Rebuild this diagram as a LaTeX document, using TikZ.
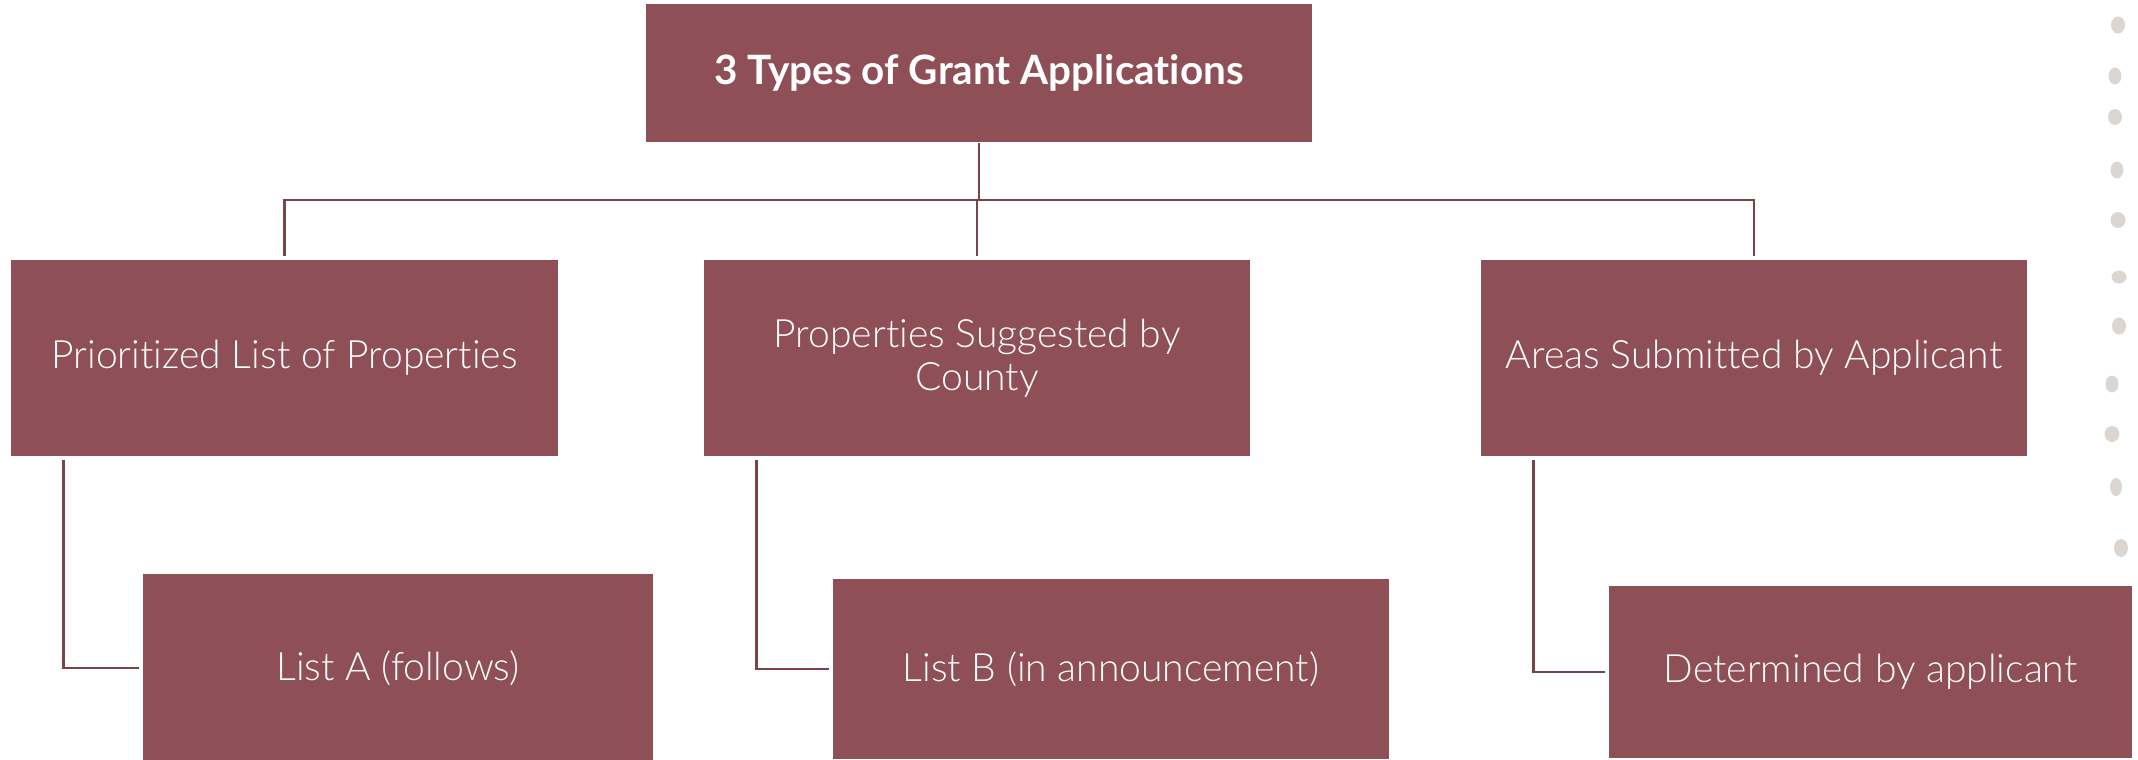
\documentclass[tikz,border=0pt]{standalone}
\usepackage{fontspec}
\setmainfont{Lato Light}[Ligatures=NoCommon, BoldFont=Lato Bold]
\usetikzlibrary{positioning}
\definecolor{boxrose}{HTML}{8E4F57}
\definecolor{linkrose}{HTML}{7D434B}
\definecolor{dotgrey}{HTML}{DDD6D0}

\begin{document}
\begin{tikzpicture}[x=0.01cm, y=-0.01cm,
    cell/.style={fill=boxrose, draw=none, text=white, align=center, inner sep=0pt, font=\fontsize{11.1}{12.3}\selectfont},
    link/.style={draw=linkrose, line width=0.8pt}]
\useasboundingbox (0,0) rectangle (2138,759);
\clip (0,0) rectangle (2138,759);

\node[cell, minimum width=6.66cm, minimum height=1.38cm, font=\bfseries\fontsize{11.5}{13}\selectfont] (title) at (979,73) {3 Types of Grant Applications};

\node[cell, minimum width=5.47cm, minimum height=1.96cm] (prio) at (284.5,358) {Prioritized List of Properties};
\node[cell, minimum width=5.46cm, minimum height=1.96cm] (sugg) at (977,358) {Properties Suggested by\\County};
\node[cell, minimum width=5.46cm, minimum height=1.96cm] (areas) at (1754,358) {Areas Submitted by Applicant};

\node[cell, minimum width=5.10cm, minimum height=1.88cm] (listA) at (398,668) {List A (follows)};
\node[cell, minimum width=5.56cm, minimum height=1.80cm] (listB) at (1111,669) {List B (in announcement)};
\node[cell, minimum width=5.23cm, minimum height=1.72cm] (listC) at (1870.5,672) {Determined by applicant};

\coordinate (bar) at (979,200);
\draw[link] (title.south) -- (bar);
\draw[link] (bar) -| ([yshift=0.03cm]prio.north);
\draw[link] (bar) -| ([yshift=0.03cm]areas.north);
\draw[link] (bar) -| ([yshift=0.03cm]sugg.north);

\coordinate (elbowA) at ([xshift=0.53cm, yshift=-0.03cm]prio.south west);
\coordinate (elbowB) at ([xshift=0.53cm, yshift=-0.03cm]sugg.south west);
\coordinate (elbowC) at ([xshift=0.53cm, yshift=-0.03cm]areas.south west);
\draw[link] (elbowA) |- ([xshift=-0.03cm]listA.west);
\draw[link] (elbowB) |- ([xshift=-0.03cm]listB.west);
\draw[link] (elbowC) |- ([xshift=-0.03cm]listC.west);

\fill[dotgrey] (2118,25) ellipse (0.07cm and 0.085cm);
\fill[dotgrey] (2115,76) ellipse (0.065cm and 0.085cm);
\fill[dotgrey] (2115,117) ellipse (0.07cm and 0.08cm);
\fill[dotgrey] (2117,170) ellipse (0.065cm and 0.085cm);
\fill[dotgrey] (2118,220) ellipse (0.075cm and 0.08cm);
\fill[dotgrey] (2119,277) ellipse (0.075cm and 0.065cm);
\fill[dotgrey] (2119,326) ellipse (0.07cm and 0.085cm);
\fill[dotgrey] (2112,384) ellipse (0.065cm and 0.085cm);
\fill[dotgrey] (2112,434) ellipse (0.075cm and 0.08cm);
\fill[dotgrey] (2116,487) ellipse (0.06cm and 0.09cm);
\fill[dotgrey] (2121,548) ellipse (0.07cm and 0.09cm);

\end{tikzpicture}
\end{document}
